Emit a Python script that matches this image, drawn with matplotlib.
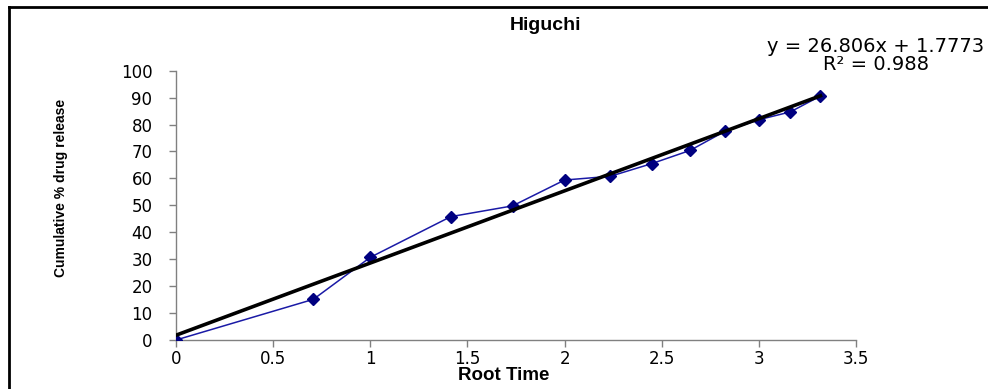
import matplotlib
matplotlib.use("Agg")
import matplotlib.pyplot as plt
import numpy as np
from matplotlib.lines import Line2D

# root time (sqrt of hours) and cumulative % drug release
root_time = [0, 0.707, 1.0, 1.414, 1.732, 2.0, 2.236, 2.449, 2.646, 2.828, 3.0, 3.162, 3.317]
release = [0, 15.1, 30.7, 45.8, 49.8, 59.4, 60.8, 65.5, 70.4, 77.6, 81.8, 84.7, 90.6]

slope = 26.806
intercept = 1.7773
r_squared = 0.988

x_ticks = [0, 0.5, 1, 1.5, 2, 2.5, 3, 3.5]
y_ticks = [0, 10, 20, 30, 40, 50, 60, 70, 80, 90, 100]

plt.rcParams['font.family'] = ['DejaVu Sans']

fig = plt.figure(figsize=(9.88, 3.89), dpi=100)
ax = fig.add_axes([176 / 988, 49 / 389, 680 / 988, 269.3 / 389])

ax.plot(root_time, release, color='#1a1aa6', linewidth=1.1, marker='D',
        markersize=6.5, markerfacecolor='#000080', markeredgecolor='#000080', zorder=3)

xx = np.array([root_time[0], root_time[-1]])
ax.plot(xx, slope * xx + intercept, color='black', linewidth=2.6, zorder=4)

ax.set_xlim(0, 3.5)
ax.set_ylim(0, 100)
ax.set_xticks(x_ticks)
ax.set_xticklabels([f"{t:g}" for t in x_ticks])
ax.set_yticks(y_ticks)

for side in ['top', 'right']:
    ax.spines[side].set_visible(False)
for side in ['left', 'bottom']:
    ax.spines[side].set_color('#808080')
    ax.spines[side].set_linewidth(1.0)
ax.tick_params(axis='both', direction='out', length=5, width=1, color='#808080',
               labelsize=12, labelcolor='black')
ax.tick_params(axis='y', pad=12)
ax.tick_params(axis='x', pad=2)

fig.text(545 / 988, 1 - 26 / 389, "Higuchi", ha='center', va='center',
         fontsize=14, fontweight='bold', family=['Liberation Sans', 'DejaVu Sans'])
fig.text(504 / 988, 1 - 376 / 389, "Root Time", ha='center', va='center',
         fontsize=13.5, fontweight='bold', family=['Liberation Sans', 'DejaVu Sans'])
fig.text(61 / 988, 1 - 188 / 389, "Cumulative % drug release", ha='center', va='center',
         rotation=90, fontsize=10, fontweight='bold',
         family=['Liberation Sans', 'DejaVu Sans'])

fig.text(876 / 988, 1 - 47 / 389, f"y = {slope}x + {intercept}", ha='center',
         va='center', fontsize=14)
fig.text(876 / 988, 1 - 65 / 389, f"R² = {r_squared}", ha='center',
         va='center', fontsize=14)

# frame around the chart area
fig.add_artist(Line2D([9 / 988, 9 / 988], [0, 1 - 7 / 389], color='black',
                      linewidth=2, transform=fig.transFigure))
fig.add_artist(Line2D([9 / 988, 1], [1 - 7 / 389, 1 - 7 / 389], color='black',
                      linewidth=2, transform=fig.transFigure))

fig.savefig("out.png", dpi=100)
